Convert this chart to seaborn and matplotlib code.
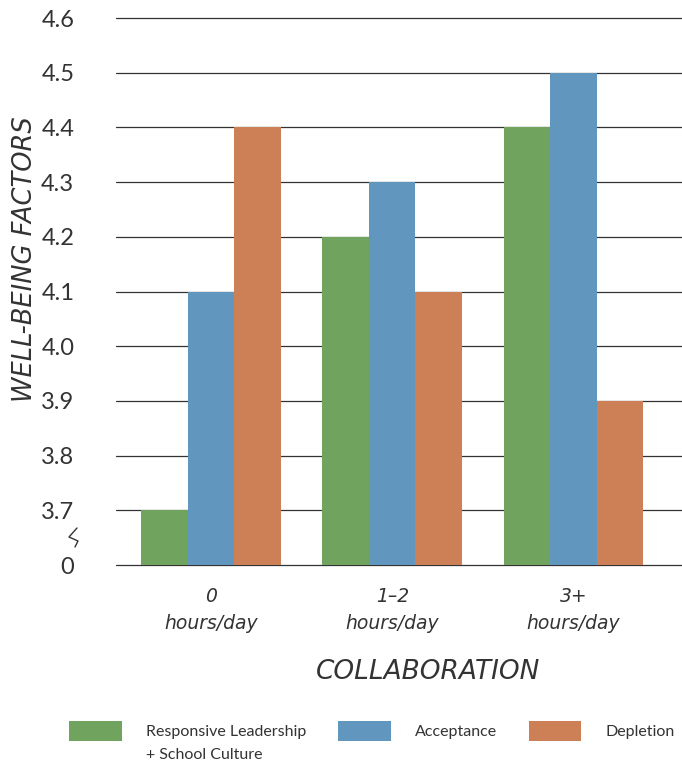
import matplotlib
matplotlib.use("Agg")
import matplotlib.pyplot as plt
import seaborn as sns
import pandas as pd
from matplotlib.patches import Patch
from matplotlib.lines import Line2D

categories = ["0\nhours/day", "1–2\nhours/day", "3+\nhours/day"]
series = ["Responsive Leadership\n+ School Culture", "Acceptance", "Depletion"]
leadership = [3.7, 4.2, 4.4]
acceptance = [4.1, 4.3, 4.5]
depletion = [4.4, 4.1, 3.9]
colors = ["#6fa35e", "#6197bf", "#cd7f56"]
yticks = [3.6, 3.7, 3.8, 3.9, 4.0, 4.1, 4.2, 4.3, 4.4, 4.5, 4.6]
ytick_labels = ["0", "3.7", "3.8", "3.9", "4.0", "4.1", "4.2", "4.3", "4.4", "4.5", "4.6"]

df = pd.DataFrame({
    "cat": categories * 3,
    "series": [series[0]] * 3 + [series[1]] * 3 + [series[2]] * 3,
    "value": leadership + acceptance + depletion,
})

sns.set_theme(style="white")
plt.rcParams["font.family"] = ["Lato", "DejaVu Sans"]
ital = ["DejaVu Sans"]
W, H = 682, 765

fig = plt.figure(figsize=(6.82, 7.65), dpi=100)
ax = fig.add_axes([116 / W, 1 - 565 / H, (W - 116) / W, (565 - 18) / H])

sns.barplot(data=df, x="cat", y="value", hue="series", palette=colors,
            width=0.77, saturation=1, ax=ax, legend=False, zorder=3, linewidth=0)

ax.set_ylim(3.6, 4.6)
ax.set_xlim(-0.525, 2.6)
ax.set_yticks(yticks)
ax.set_yticklabels(ytick_labels, fontsize=17, color="#333333")
ax.yaxis.grid(True, color="#333333", linewidth=0.9, zorder=0)
for gl in ax.yaxis.get_gridlines():
    gl.set_clip_on(False)
ax.set_axisbelow(True)
for s in ax.spines.values():
    s.set_visible(False)
ax.tick_params(axis="y", length=0, pad=30)
ax.tick_params(axis="x", length=0, pad=16)
for lbl in ax.get_xticklabels():
    lbl.set_fontsize(13.5)
    lbl.set_fontstyle("italic")
    lbl.set_family(ital)
    lbl.set_color("#333333")
    lbl.set_linespacing(1.5)

ax.set_xlabel("COLLABORATION", fontsize=19, fontstyle="italic", color="#333333",
              family=ital)
ax.xaxis.set_label_coords((428 - 116) / (W - 116), 1 - (672 - 18) / (565 - 18))
ax.xaxis.label.set_va("center")
ax.set_ylabel("WELL-BEING FACTORS", fontsize=18.5, fontstyle="italic", color="#333333",
              family=ital)
ax.yaxis.set_label_coords(-0.137, 0.56)

# axis break zigzag
zx = [77 / W, 69 / W, 78 / W, 75 / W]
zy = [1 - 528 / H, 1 - 537 / H, 1 - 541 / H, 1 - 547 / H]
fig.add_artist(Line2D(zx, zy, color="#333333", linewidth=1.0, transform=fig.transFigure))

# legend: first line of each label next to its swatch, continuation line underneath
first_lines = [s.split("\n")[0] for s in series]
handles = [Patch(facecolor=c, edgecolor="none") for c in colors]
leg = fig.legend(handles, first_lines, loc="center", bbox_to_anchor=(0.545, 1 - 731 / H), ncol=3,
                 frameon=False, fontsize=11.5, handlelength=3.3, handleheight=1.5,
                 handletextpad=1.5, columnspacing=2.0, borderpad=0)
for t in leg.get_texts():
    t.set_color("#333333")

fig.canvas.draw()
for s, t in zip(series, leg.get_texts()):
    rest = s.split("\n")[1:]
    if rest:
        bb = t.get_window_extent()
        fig.text(bb.x0 / W, 1 - 755 / H, "\n".join(rest), fontsize=11.5,
                 color="#333333", ha="left", va="center")

fig.savefig("out.png", dpi=100)
